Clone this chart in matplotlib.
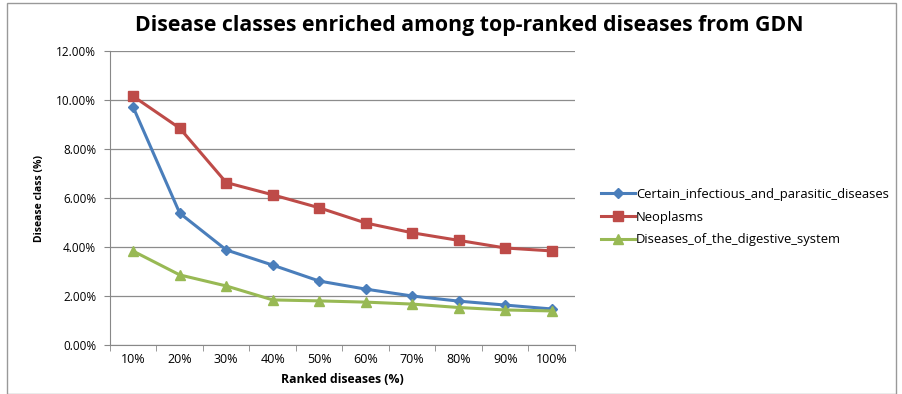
import matplotlib.pyplot as plt
from matplotlib.patches import Rectangle
from matplotlib.ticker import FixedLocator, PercentFormatter
import numpy as np

categories = ["10%", "20%", "30%", "40%", "50%", "60%", "70%", "80%", "90%", "100%"]
infectious = [9.70, 5.38, 3.88, 3.26, 2.61, 2.28, 2.00, 1.79, 1.63, 1.47]
neoplasms = [10.15, 8.85, 6.63, 6.13, 5.60, 4.98, 4.58, 4.27, 3.96, 3.84]
digestive = [3.83, 2.86, 2.41, 1.84, 1.80, 1.75, 1.67, 1.53, 1.43, 1.39]

plt.rcParams['font.family'] = ['Open Sans', 'DejaVu Sans']

fig = plt.figure(figsize=(9.03, 3.94), dpi=100)
fig.patches.append(Rectangle((7 / 903, 0), 889 / 903, 391 / 394, transform=fig.transFigure,
                             fill=False, edgecolor='#999999', linewidth=1))
ax = fig.add_axes([110 / 903, 49 / 394, 465 / 903, 294 / 394])

x = np.arange(len(categories))
ax.plot(x, infectious, color='#4A7EBB', linewidth=2.2, marker='D', markersize=5.5,
        label='Certain_infectious_and_parasitic_diseases')
ax.plot(x, neoplasms, color='#BE4B48', linewidth=2.2, marker='s', markersize=7.5,
        label='Neoplasms')
ax.plot(x, digestive, color='#98B954', linewidth=2.2, marker='^', markersize=7.5,
        label='Diseases_of_the_digestive_system')

ax.set_xlim(-0.5, len(categories) - 0.5)
ax.set_ylim(0, 12)
ax.set_yticks(np.arange(0, 12.1, 2))
ax.yaxis.set_major_formatter(PercentFormatter(decimals=2))
ax.set_xticks(x)
ax.set_xticklabels(categories)
ax.xaxis.set_minor_locator(FixedLocator(np.arange(-0.5, len(categories), 1)))
ax.tick_params(axis='x', which='major', length=0, labelsize=9, pad=6)
ax.tick_params(axis='x', which='minor', length=4, color='#888888')
ax.tick_params(axis='y', length=4, color='#888888', labelsize=8.5, pad=6)
ax.grid(axis='y', color='#8c8c8c', linewidth=0.9)
ax.set_axisbelow(True)
for s in ['top', 'right']:
    ax.spines[s].set_visible(False)
for s in ['left', 'bottom']:
    ax.spines[s].set_color('#888888')

ax.set_xlabel('Ranked diseases (%)', fontsize=8.8, fontweight='bold', labelpad=5)
ax.set_ylabel('Disease class (%)', fontsize=7.5, fontweight='bold', labelpad=8)
fig.text(469 / 903, 0.935, 'Disease classes enriched among top-ranked diseases from GDN',
         ha='center', va='center', fontsize=15.3, fontweight='bold')

ax.legend(loc='center left', bbox_to_anchor=(1.03, 0.435), frameon=False, fontsize=9.4,
          handlelength=2.6, handletextpad=0.1, labelspacing=0.75)

fig.savefig('out.png', dpi=100)
